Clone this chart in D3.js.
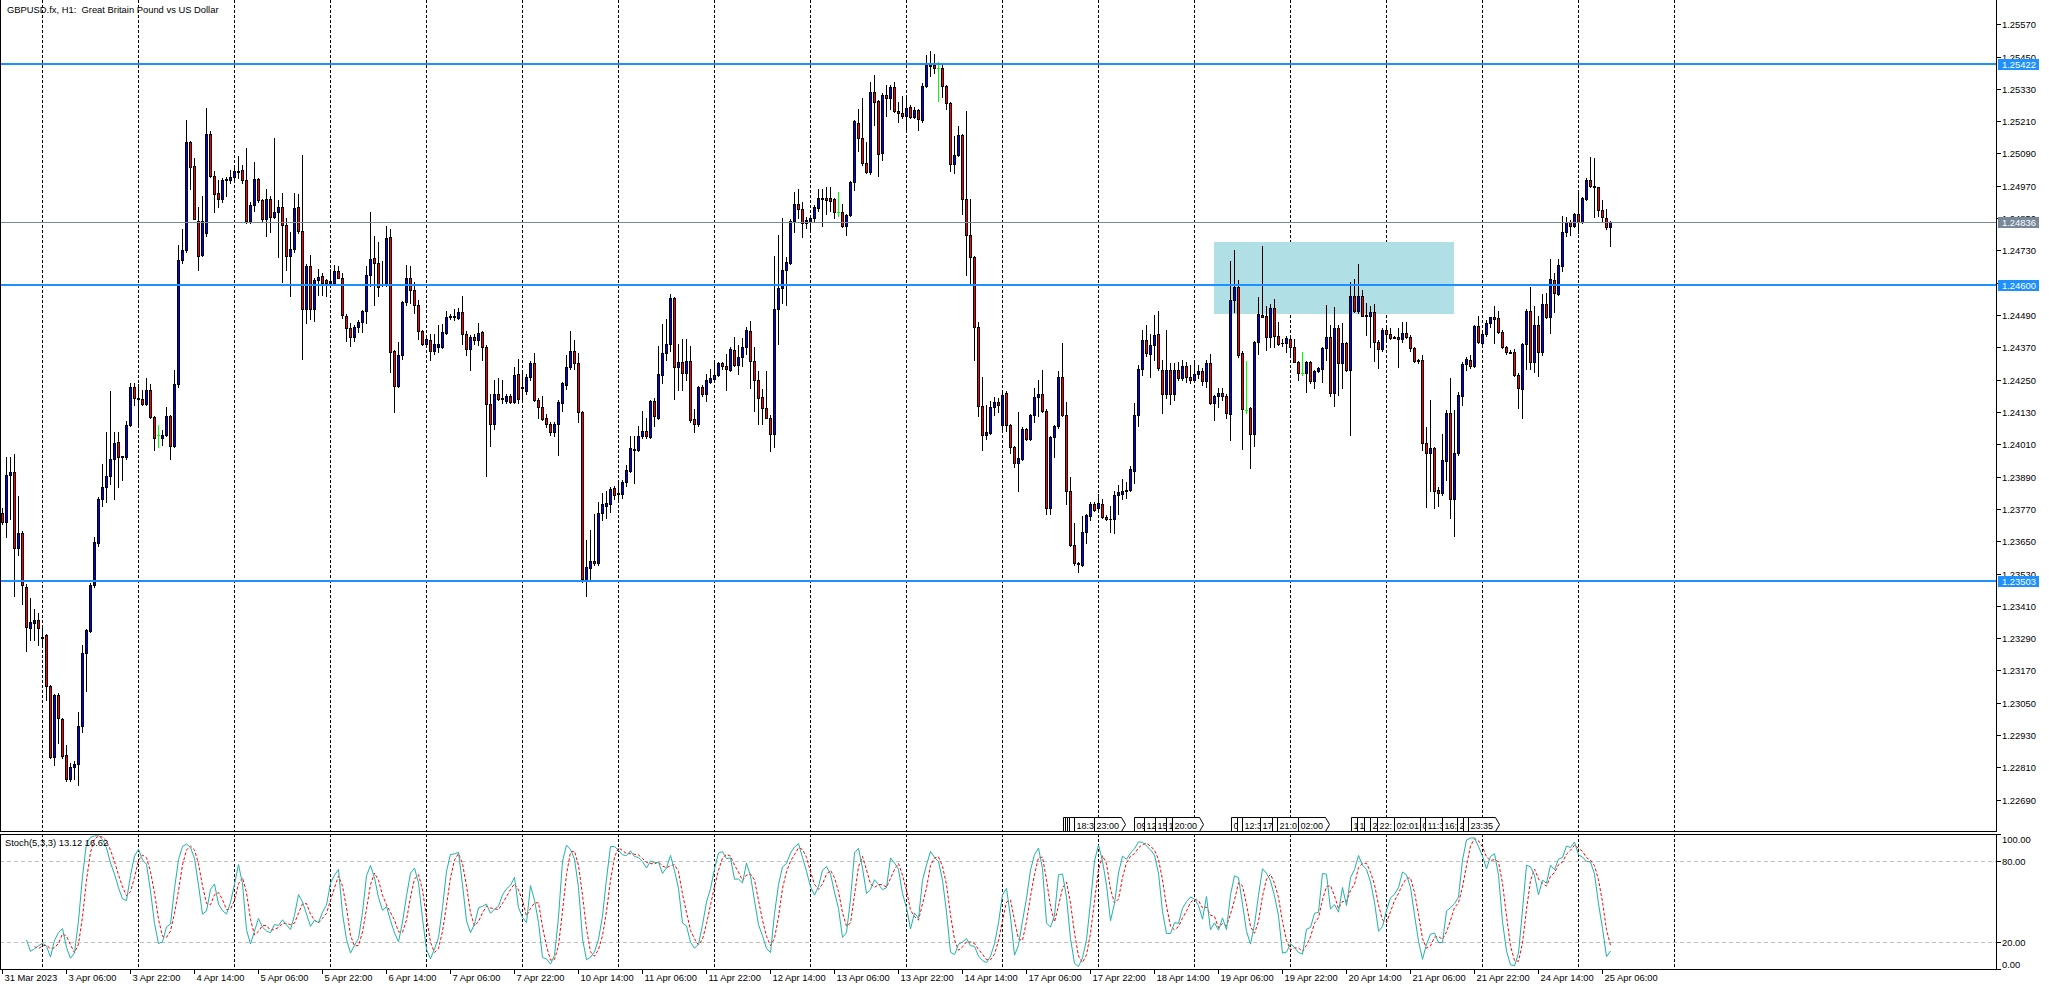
<!DOCTYPE html>
<html><head><meta charset="utf-8">
<script src="https://cdn.jsdelivr.net/npm/d3@7"></script>
<style>
body{margin:0;background:#fff;}
svg{display:block;}
text{font-family:"Liberation Sans",Arial,sans-serif;font-size:9.4px;fill:#000;}
</style>
</head><body>
<svg id="chart" width="2049" height="990"></svg>
<script>
// ---- DATA (GBPUSD H1, prices in points = 1e-5) ----
const openPts=[123755,123722,123896,123908,123626,123680,123481,123327,123345,123357,
123296,123302,123112,122850,123078,122989,122855,122768,122812,122822,
122962,123233,123316,123486,123642,123805,123851,123893,123957,124019,
123962,123962,124082,124223,124181,124178,124160,124211,124112,124045,
124034,124045,124115,124004,124234,124695,124732,125133,125044,124841,
124712,124795,125163,125007,124944,124921,124991,124991,125004,125024,
125027,124991,124838,124899,124995,124916,124845,124921,124855,124874,
124891,124825,124709,124735,124891,124803,124513,124672,124513,124619,
124634,124619,124609,124609,124654,124629,124488,124443,124407,124447,
124465,124505,124639,124700,124684,124602,124601,124778,124355,124228,
124340,124539,124628,124584,124526,124429,124383,124398,124357,124370,
124371,124425,124482,124486,124479,124502,124421,124362,124407,124398,
124428,124371,124158,124087,124195,124178,124171,124189,124168,124270,
124222,124209,124259,124313,124175,124150,124108,124087,124056,124087,
124164,124229,124297,124355,124313,124128,123507,123550,123577,123568,
123754,123781,123788,123848,123827,123824,123869,123912,123993,123990,
124040,124058,124037,124171,124108,124267,124348,124384,124553,124297,
124314,124274,124320,124103,124087,124222,124195,124243,124254,124267,
124310,124301,124286,124360,124306,124333,124371,124432,124320,124249,
124185,124144,124108,124047,124513,124591,124658,124682,124840,124902,
124883,124830,124841,124850,124888,124925,124925,124925,124922,124871,
124873,124819,124861,124983,125205,125147,125056,125023,125319,125285,
125093,125309,125296,125336,125249,125242,125231,125262,125224,125251,
125215,125341,125415,125420,125407,125407,125341,125278,125050,125084,
125158,124921,124787,124706,124445,124151,124044,124051,124148,124166,
124081,124202,124081,124000,123939,123955,124067,124031,124117,124185,
124195,124132,123773,124036,124077,124259,124117,123835,123635,123565,
123561,123685,123743,123788,123774,123790,123740,123734,123732,123820,
123824,123838,123842,123912,124117,124290,124398,124344,124378,124418,
124286,124195,124286,124195,124286,124256,124301,124259,124247,124270,
124281,124246,124310,124164,124189,124199,124189,124122,124546,124595,
124348,124137,124143,124050,124391,124490,124486,124409,124515,124412,
124387,124385,124401,124372,124317,124273,124273,124314,124246,124282,
124290,124366,124407,124201,124440,124310,124385,124286,124561,124506,
124561,124486,124488,124500,124391,124362,124434,124418,124407,124407,
124400,124422,124409,124366,124318,124323,124013,123976,123995,123840,
123830,123949,124127,123805,123979,124189,124307,124323,124302,124449,
124387,124419,124461,124481,124478,124428,124372,124351,124351,124267,
124215,124382,124505,124317,124453,124351,124530,124481,124620,124568,
124672,124797,124837,124821,124864,124837,124921,124991,124969,124964,
124880,124849,124818];
const highPts=[123772,123962,123962,123974,123818,123689,123490,123440,123399,123382,
123332,123307,123117,123083,123087,122992,122893,122826,122835,123017,
123266,123324,123493,123667,123813,123937,124054,124208,124054,124054,
123967,124095,124239,124236,124233,124211,124256,124233,124115,124082,
124062,124148,124120,124284,124750,124811,125214,125136,125073,124891,
124932,125259,125173,125024,124991,124999,125004,125027,125049,125082,
125049,125110,124908,125057,124999,124921,124957,124932,125148,124916,
124944,124850,124800,124944,124941,125085,124679,124712,124626,124662,
124647,124622,124662,124675,124672,124645,124493,124460,124452,124470,
124510,124672,124874,124783,124762,124692,124821,124811,124360,124389,
124543,124675,124672,124614,124547,124434,124411,124421,124421,124452,
124456,124506,124493,124513,124515,124560,124432,124416,124418,124461,
124432,124378,124195,124249,124256,124249,124195,124195,124297,124326,
124283,124270,124320,124348,124182,124189,124121,124094,124094,124175,
124243,124340,124432,124398,124348,124135,123655,123692,123750,123797,
123828,123838,123851,123854,123878,123878,123932,124040,124040,124078,
124132,124108,124175,124182,124374,124456,124475,124569,124556,124384,
124401,124402,124374,124141,124225,124229,124272,124290,124313,124317,
124317,124344,124371,124407,124378,124405,124445,124466,124371,124283,
124216,124281,124117,124709,124787,124850,124706,124846,124948,124958,
124911,124853,124857,124898,124958,124958,124965,124965,124925,124948,
124904,124867,124988,125215,125255,125296,125131,125357,125380,125289,
125316,125343,125343,125357,125282,125303,125303,125269,125262,125255,
125350,125455,125469,125458,125428,125420,125346,125282,125154,125192,
125161,125249,124922,124709,124463,124259,124155,124171,124186,124182,
124206,124209,124085,124004,124131,124074,124071,124121,124218,124249,
124286,124141,124040,124081,124281,124387,124168,123889,123716,123574,
123743,123750,123794,123794,123824,123808,123746,123780,123838,123858,
123881,123871,123929,124162,124303,124434,124452,124421,124490,124506,
124324,124434,124310,124310,124317,124324,124317,124303,124317,124303,
124292,124323,124344,124193,124218,124218,124196,124691,124731,124620,
124356,124319,124149,124395,124558,124746,124523,124530,124548,124465,
124400,124412,124413,124401,124319,124351,124320,124320,124286,124298,
124372,124527,124453,124518,124453,124461,124388,124611,124622,124679,
124583,124533,124523,124531,124397,124443,124447,124440,124412,124443,
124465,124465,124416,124372,124327,124341,124073,124174,124001,123850,
124050,124137,124257,124137,124205,124317,124335,124341,124453,124486,
124431,124471,124484,124523,124505,124434,124375,124360,124362,124273,
124385,124511,124593,124523,124486,124567,124570,124698,124645,124698,
124858,124853,124843,124868,124942,124930,125000,125076,125072,124967,
124917,124882,124840];
const lowPts=[123714,123664,123734,123448,123598,123415,123244,123282,123282,123266,
123266,123059,122843,122818,122901,122843,122760,122760,122768,122744,
122943,123092,123312,123481,123631,123780,123797,123863,123805,123850,
123876,123954,124078,124156,124083,124156,124156,124108,123987,124001,
124007,124042,123954,123999,124224,124684,124725,124957,124845,124659,
124709,124783,125004,124874,124891,124911,124932,124982,124994,124999,
124982,124833,124833,124878,124911,124838,124783,124800,124850,124705,
124612,124659,124559,124725,124795,124327,124460,124476,124468,124564,
124564,124559,124609,124606,124626,124480,124394,124374,124394,124427,
124427,124460,124596,124526,124559,124596,124596,124277,124128,124224,
124327,124529,124533,124497,124402,124380,124371,124324,124344,124351,
124367,124421,124475,124472,124475,124384,124340,124286,124384,124380,
124324,123894,124004,124067,124175,124162,124162,124164,124164,124162,
124175,124195,124249,124172,124108,124101,124074,124043,124040,123969,
124135,124216,124290,124290,124091,123500,123446,123507,123561,123561,
123730,123736,123759,123808,123794,123811,123854,123908,123867,123986,
124033,124033,124033,124078,124105,124239,124324,124357,124178,124212,
124213,124249,124091,124054,124078,124191,124171,124236,124249,124263,
124290,124213,124283,124301,124270,124301,124344,124218,124132,124087,
124087,124108,123986,124000,124384,124533,124529,124678,124799,124850,
124779,124813,124810,124837,124877,124821,124864,124877,124850,124857,
124817,124786,124857,124956,125100,125046,125019,125012,125195,125006,
125064,125228,125255,125245,125208,125222,125177,125222,125220,125177,
125208,125336,125377,125390,125285,125299,125255,125026,125019,125080,
124867,124637,124605,124324,124114,123990,124029,124047,124117,124128,
124060,124058,123979,123925,123838,123952,124027,124027,124091,124114,
124128,123750,123750,123962,124070,124114,123790,123631,123563,123534,
123557,123642,123727,123763,123770,123736,123727,123686,123680,123750,
123808,123811,123838,123867,124077,124267,124337,124259,124324,124286,
124125,124182,124159,124175,124249,124249,124243,124236,124243,124256,
124230,124224,124158,124100,124149,124174,124106,124026,124502,124335,
123991,124125,123923,124003,124344,124481,124360,124370,124370,124379,
124375,124354,124335,124314,124248,124267,124205,124239,124220,124277,
124242,124323,124189,124152,124193,124218,124282,124044,124502,124499,
124486,124416,124372,124320,124294,124357,124397,124401,124403,124298,
124391,124403,124357,124317,124313,123988,123778,123836,123772,123780,
123821,123877,123737,123669,123970,124156,124286,124292,124298,124385,
124376,124413,124447,124385,124422,124366,124345,124348,124263,124143,
124106,124288,124288,124279,124265,124341,124478,124424,124502,124564,
124655,124785,124787,124816,124796,124833,124917,124967,124855,124858,
124840,124808,124746];
const closePts=[123722,123896,123908,123626,123680,123486,123332,123349,123357,123327,
123289,123112,122850,123078,122992,122853,122768,122810,122823,122962,
123233,123319,123486,123647,123808,123851,123893,123957,124015,123962,
123967,124082,124223,124181,124178,124160,124211,124112,124034,124045,
124045,124115,124004,124234,124695,124732,125133,125040,124845,124709,
124841,125163,125007,124941,124921,124991,124994,125004,125024,125021,
124991,124838,124899,124995,124916,124845,124921,124855,124874,124891,
124825,124709,124735,124888,124803,124513,124672,124513,124619,124631,
124609,124609,124617,124654,124629,124490,124443,124407,124447,124465,
124505,124639,124699,124684,124593,124605,124775,124352,124228,124340,
124539,124626,124584,124526,124429,124384,124401,124357,124382,124382,
124428,124482,124486,124482,124502,124421,124362,124407,124398,124425,
124371,124158,124085,124195,124178,124182,124189,124168,124267,124178,
124218,124259,124313,124175,124148,124105,124087,124056,124087,124168,
124236,124297,124355,124310,124128,123511,123554,123577,123568,123754,
123788,123793,123844,123821,123830,123869,123915,123996,123990,124040,
124058,124040,124171,124114,124270,124348,124384,124553,124297,124314,
124274,124320,124101,124087,124222,124195,124249,124256,124267,124310,
124301,124290,124364,124306,124333,124371,124434,124321,124249,124182,
124144,124108,124047,124513,124591,124659,124686,124840,124902,124883,
124833,124844,124850,124891,124925,124922,124918,124915,124871,124871,
124819,124861,124983,125211,125147,125053,125023,125319,125282,125089,
125309,125296,125336,125249,125242,125231,125258,125224,125251,125218,
125341,125417,125420,125407,125407,125341,125278,125050,125084,125158,
124921,124787,124706,124445,124151,124044,124054,124148,124166,124155,
124193,124081,124000,123939,123959,124067,124031,124117,124185,124195,
124132,123773,124036,124077,124259,124117,123835,123635,123568,123569,
123685,123746,123788,123767,123793,123740,123732,123732,123820,123831,
123838,123842,123919,124117,124290,124398,124348,124378,124416,124293,
124195,124286,124195,124286,124256,124301,124259,124247,124272,124281,
124246,124310,124164,124189,124199,124189,124125,124546,124595,124341,
124140,124137,124050,124391,124494,124484,124409,124515,124412,124382,
124385,124403,124372,124317,124273,124273,124314,124246,124282,124292,
124366,124407,124201,124440,124310,124385,124286,124561,124506,124561,
124487,124490,124500,124391,124362,124434,124418,124406,124405,124400,
124422,124409,124366,124320,124323,124013,123976,123995,123837,123830,
123951,124125,123805,123979,124193,124307,124325,124302,124449,124391,
124419,124461,124481,124476,124428,124372,124351,124349,124267,124218,
124382,124505,124317,124453,124351,124530,124481,124622,124570,124674,
124797,124834,124821,124864,124837,124923,124991,124969,124964,124880,
124853,124816,124836];

const priceTicks=[1.25570,1.25450,1.25330,1.25210,1.25090,1.24970,1.24850,1.24730,1.24610,1.24490,1.24370,1.24250,1.24130,1.24010,1.23890,1.23770,1.23650,1.23530,1.23410,1.23290,1.23170,1.23050,1.22930,1.22810,1.22690];
const levelLines=[1.25422,1.24600,1.23503];
const bidPrice=1.24836;
const dayStartBars=[10,34,58,82,106,130,154,178,202,226,250,274,298,322,346,370,394,418];
const timeLabelBars=[0,16,32,48,64,80,96,112,128,144,160,176,192,208,224,240,256,272,288,304,320,336,352,368,384,400];
const timeLabels=["31 Mar 2023","3 Apr 06:00","3 Apr 22:00","4 Apr 14:00","5 Apr 06:00","5 Apr 22:00","6 Apr 14:00","7 Apr 06:00","7 Apr 22:00","10 Apr 14:00","11 Apr 06:00","11 Apr 22:00","12 Apr 14:00","13 Apr 06:00","13 Apr 22:00","14 Apr 14:00","17 Apr 06:00","17 Apr 22:00","18 Apr 14:00","19 Apr 06:00","19 Apr 22:00","20 Apr 14:00","21 Apr 06:00","21 Apr 22:00","24 Apr 14:00","25 Apr 06:00"];
const zoneBars=[303,363];
const zonePrices=[1.24761,1.24495];
const stochTicks=[100,80,20,0];
const stochLevels=[80,20];
// vertical-line labels at the bottom of the price panel: [bar position, visible text]
const eventGroups=[
 [[265.05,""],[265.6,""],[266.1,""],[266.7,""],[267.95,"18:3"],[272.95,"23:00"]],
 [[282.95,"09"],[285.45,"12"],[288.1,"15"],[290.9,"1"],[292.3,"20:00"]],
 [[307.05,"0"],[308.7,""],[309.95,"12:3"],[314.4,"17"],[317.45,""],[318.7,"21:0"],[323.95,"02:00"]],
 [[337.05,"1"],[338.7,"1"],[340.4,""],[341.9,"2"],[343.7,"22:"],[347.9,"02:01"]],
 [[354.4,"0"],[355.6,"11:3"],[359.95,"16:"],[363.7,"2"],[365.2,""],[366.45,"23:35"]]
];

// ---- LAYOUT ----
const svg=d3.select("#chart");
const W=2049, plotR=1996, mainB=832, stTop=834, stB=969;
const bars=openPts.map((o,i)=>({i,o:o/1e5,h:highPts[i]/1e5,l:lowPts[i]/1e5,c:closePts[i]/1e5}));
const x=d3.scaleLinear().domain([0,498.375]).range([2.5,plotR]);
const y=d3.scaleLinear().domain([1.22570,1.25660]).range([mainB,0]);
const ys=d3.scaleLinear().domain([0,100]).range([stB,stTop]);

svg.append("rect").attr("width",W).attr("height",990).attr("fill","#fff");
svg.append("defs").append("clipPath").attr("id","stClip").append("rect")
  .attr("x",0).attr("y",stTop).attr("width",plotR).attr("height",stB-stTop);

// day separators (dashed)
const grid=svg.append("g").attr("shape-rendering","crispEdges");
dayStartBars.forEach(b=>{
  const gx=Math.floor(x(b))+0.5;
  grid.append("line").attr("x1",gx).attr("x2",gx).attr("y1",0).attr("y2",mainB)
   .attr("stroke","#000").attr("stroke-dasharray","3,2");
  grid.append("line").attr("x1",gx).attr("x2",gx).attr("y1",stTop).attr("y2",stB)
   .attr("stroke","#000").attr("stroke-dasharray","3,2");
});
// stoch level lines
stochLevels.forEach(v=>{
  grid.append("line").attr("x1",0).attr("x2",plotR).attr("y1",Math.round(ys(v))+0.5).attr("y2",Math.round(ys(v))+0.5)
   .attr("stroke","#c0c0c0").attr("stroke-dasharray","4,3");
});

// zone rectangle
svg.append("rect").attr("x",Math.round(x(zoneBars[0])-0.5)).attr("y",Math.round(y(zonePrices[0])))
  .attr("width",Math.round(x(zoneBars[1])-x(zoneBars[0]))).attr("height",Math.round(y(zonePrices[1])-y(zonePrices[0])))
  .attr("fill","#b0e0e6");

// candles
const cg=svg.append("g").attr("shape-rendering","crispEdges");
bars.forEach(d=>{
  const cx=Math.floor(x(d.i));
  const doji=d.o===d.c;
  const yH=Math.round(y(Math.max(d.h,d.o,d.c))), yL=Math.round(y(Math.min(d.l,d.o,d.c)));
  cg.append("rect").attr("x",cx).attr("y",yH).attr("width",1).attr("height",Math.max(1,yL-yH+1))
    .attr("fill",doji?"#00ff00":"#000");
  if(doji){
    cg.append("rect").attr("x",cx-1).attr("y",Math.round(y(d.o))).attr("width",3).attr("height",1).attr("fill","#00ff00");
    return;
  }
  const yT=Math.round(y(Math.max(d.o,d.c))), yB=Math.round(y(Math.min(d.o,d.c)));
  const hh=Math.max(1,yB-yT+1);
  cg.append("rect").attr("x",cx-1).attr("y",yT).attr("width",3).attr("height",hh).attr("fill","#000");
  if(hh>2) cg.append("rect").attr("x",cx).attr("y",yT+1).attr("width",1).attr("height",hh-2)
    .attr("fill",d.c>d.o?"#0000ff":"#ff0000");
});

// horizontal level lines and bid line
const lg=svg.append("g").attr("shape-rendering","crispEdges");
levelLines.forEach(p=>{
  lg.append("rect").attr("x",0).attr("y",Math.round(y(p))-1).attr("width",plotR).attr("height",2).attr("fill","#1e90ff");
});
lg.append("rect").attr("x",0).attr("y",Math.round(y(bidPrice))).attr("width",plotR).attr("height",1).attr("fill","#778899");

// event labels
const eg=svg.append("g");
eventGroups.forEach(gr=>{
  gr.forEach((e,k)=>{
    const x0=Math.round(x(e[0]))+0.5;
    const last=k===gr.length-1;
    let x1;
    const t=eg.append("text").attr("x",x0+2).attr("y",828.5).text(e[1]).style("font-size","9px");
    if(!last){ x1=Math.round(x(gr[k+1][0]))+0.5; }
    else { x1=x0+Math.ceil(t.node().getComputedTextLength())+4; }
    const pts=last?[[x0,817.5],[x1,817.5],[x1+4,824.5],[x1,831.5],[x0,831.5]]:[[x0,817.5],[x1,817.5],[x1,831.5],[x0,831.5]];
    eg.insert("polygon","text").attr("points",pts.map(p=>p.join(",")).join(" "))
      .attr("fill","#fff").attr("stroke","#000").attr("stroke-width",1);
    if(!last){
      // clip text inside box
      const cid="ec"+Math.round(x0);
      svg.select("defs").append("clipPath").attr("id",cid).append("rect").attr("x",x0).attr("y",817).attr("width",x1-x0).attr("height",15);
      t.attr("clip-path","url(#"+cid+")");
    }
  });
});

// stochastic (5,3,3) derived from the OHLC arrays
const K=5,SL=3,DP=3;
const mainK=[],sig=[];
const hhA=[],llA=[];
bars.forEach((d,i)=>{ if(i>=K-1){ const w=bars.slice(i-K+1,i+1); hhA[i]=d3.max(w,b=>b.h); llA[i]=d3.min(w,b=>b.l);} });
bars.forEach((d,i)=>{
  if(i>=K-1+SL-1){ let n=0,dn=0; for(let j=i-SL+1;j<=i;j++){ n+=bars[j].c-llA[j]; dn+=hhA[j]-llA[j]; } mainK[i]=dn>0?n/dn*100:100; }
});
bars.forEach((d,i)=>{ if(i>=K-1+SL-1+DP-1){ sig[i]=(mainK[i]+mainK[i-1]+mainK[i-2])/3; } });
const sg=svg.append("g").attr("clip-path","url(#stClip)");
const lineK=d3.line().defined(d=>d!=null).x((d,i)=>x(i)).y(d=>ys(d));
sg.append("path").datum(bars.map((d,i)=>sig[i]==null?null:sig[i])).attr("d",lineK)
  .attr("fill","none").attr("stroke","#ff0000").attr("stroke-width",1).attr("stroke-dasharray","3,2");
sg.append("path").datum(bars.map((d,i)=>mainK[i]==null?null:mainK[i])).attr("d",lineK)
  .attr("fill","none").attr("stroke","#20b2aa").attr("stroke-width",1);

// frames
const fg=svg.append("g").attr("shape-rendering","crispEdges").attr("stroke","#000").attr("fill","none");
fg.append("line").attr("x1",0.5).attr("x2",0.5).attr("y1",0).attr("y2",mainB);
fg.append("line").attr("x1",0).attr("x2",plotR).attr("y1",mainB-0.5).attr("y2",mainB-0.5);
fg.append("line").attr("x1",plotR+0.5).attr("x2",plotR+0.5).attr("y1",0).attr("y2",mainB);
fg.append("rect").attr("x",0.5).attr("y",stTop+0.5).attr("width",plotR).attr("height",stB-stTop);

// price axis
const ag=svg.append("g");
priceTicks.forEach(p=>{
  const py=Math.round(y(p))+0.5;
  ag.append("line").attr("x1",plotR).attr("x2",plotR+5).attr("y1",py).attr("y2",py).attr("stroke","#000").attr("shape-rendering","crispEdges");
  ag.append("text").attr("x",plotR+6).attr("y",py).attr("dy","0.35em").text(p.toFixed(5));
});
function tagBox(p,color){
  const py=Math.round(y(p));
  ag.append("rect").attr("x",plotR+2).attr("y",py-5).attr("width",41).attr("height",11).attr("fill",color).attr("shape-rendering","crispEdges");
  ag.append("text").attr("x",plotR+6).attr("y",py+0.5).attr("dy","0.35em").text(p.toFixed(5)).style("fill","#fff");
}
levelLines.forEach(p=>tagBox(p,"#1e90ff"));
tagBox(bidPrice,"#778899");

// stoch axis
stochTicks.forEach(v=>{
  const py=Math.round(ys(v))+0.5;
  ag.append("line").attr("x1",plotR).attr("x2",plotR+5).attr("y1",py).attr("y2",py).attr("stroke","#000").attr("shape-rendering","crispEdges");
  const ty=v===100?py+5:(v===0?py-5:py);
  ag.append("text").attr("x",plotR+6).attr("y",ty).attr("dy","0.35em").text(v.toFixed(2));
});

// time axis
timeLabelBars.forEach((b,k)=>{
  const tx=Math.floor(x(b))+0.5;
  ag.append("line").attr("x1",tx).attr("x2",tx).attr("y1",stB).attr("y2",stB+5).attr("stroke","#000").attr("shape-rendering","crispEdges");
  ag.append("text").attr("x",tx+2).attr("y",978).attr("dy","0.35em").text(timeLabels[k]);
});

// titles
svg.append("text").attr("x",7).attr("y",10).attr("dy","0.35em").style("white-space","pre")
  .text("GBPUSD.fx, H1:  Great Britain Pound vs US Dollar");
svg.append("text").attr("x",5).attr("y",843).attr("dy","0.35em").text("Stoch(5,3,3) 13.12 16.62");
</script>
</body></html>
